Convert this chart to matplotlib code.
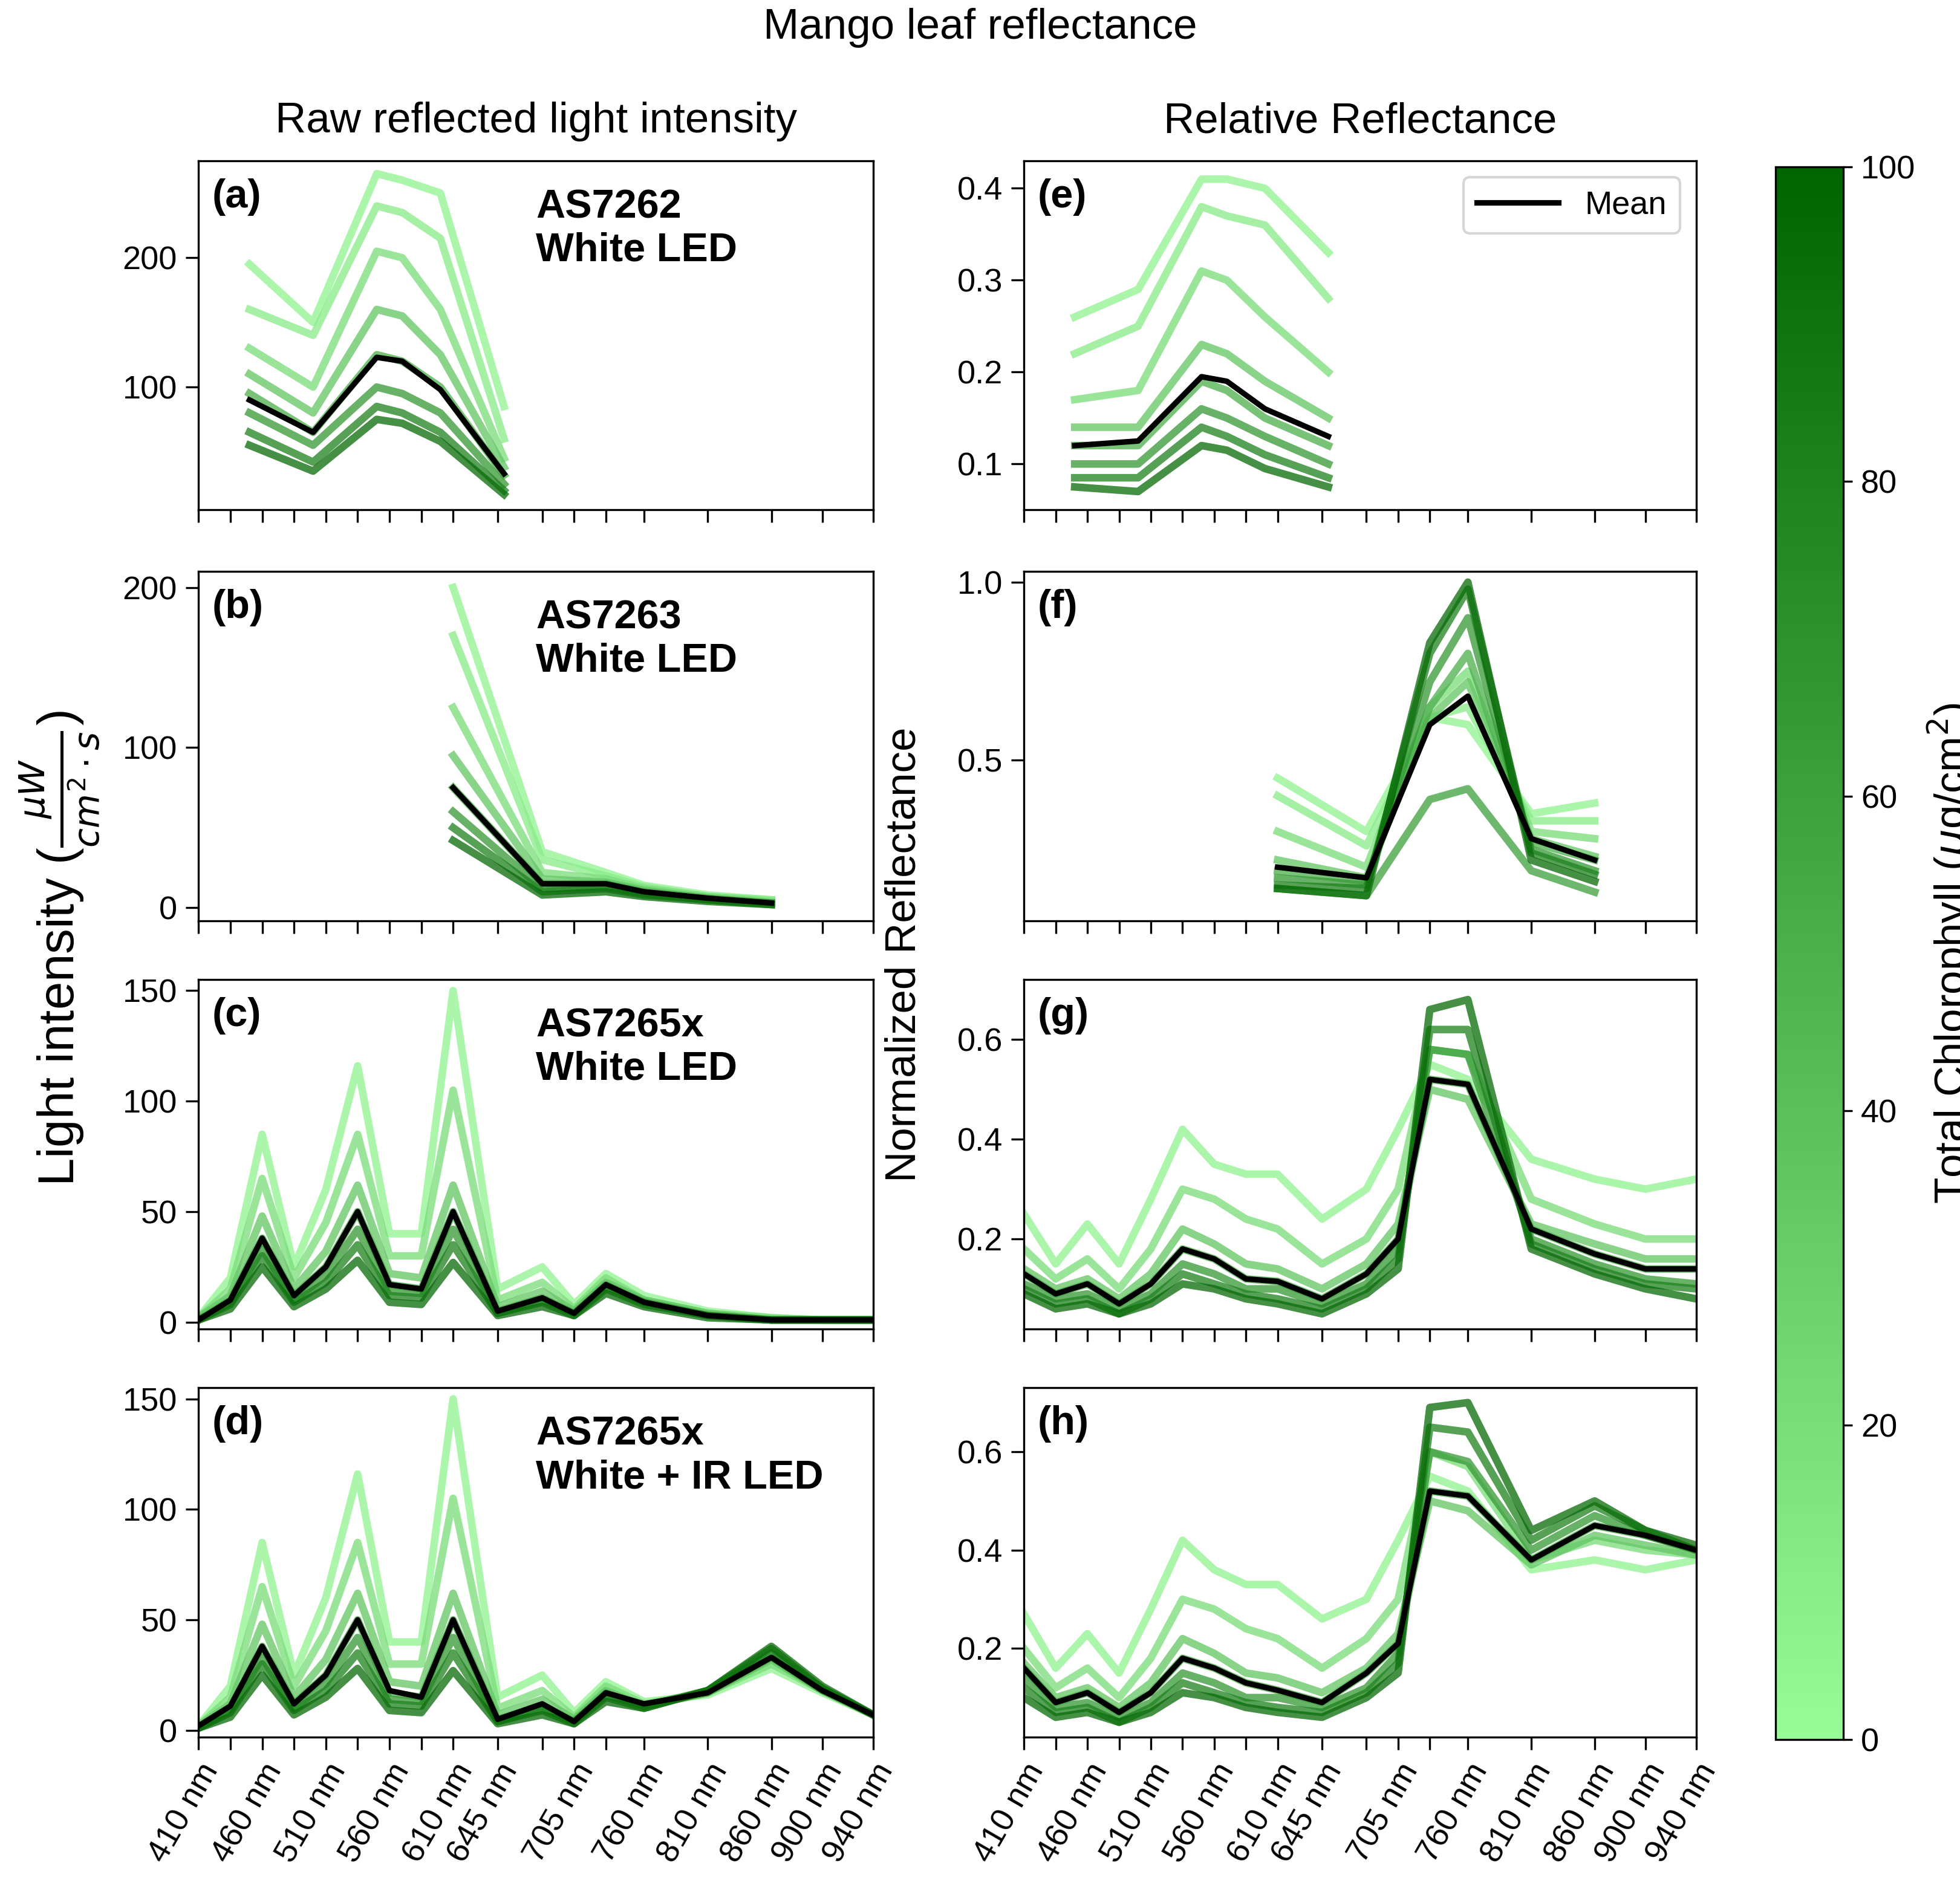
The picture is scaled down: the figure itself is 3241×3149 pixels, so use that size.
import numpy as np
import matplotlib
matplotlib.use("Agg")
import matplotlib.pyplot as plt
from matplotlib.colors import LinearSegmentedColormap, Normalize
from matplotlib.cm import ScalarMappable

plt.rcParams["font.family"] = "Liberation Sans"
plt.rcParams["mathtext.fontset"] = "dejavusans"

wl_62 = [450, 500, 550, 570, 600, 650]
wl_63 = [610, 680, 730, 760, 810, 860]
wl_65 = [410, 435, 460, 485, 510, 535, 560, 585, 610, 645, 680, 705, 730, 760, 810, 860, 900, 940]
tick_labels = {410: "410 nm", 460: "460 nm", 510: "510 nm", 560: "560 nm", 610: "610 nm", 645: "645 nm",
               705: "705 nm", 760: "760 nm", 810: "810 nm", 860: "860 nm", 900: "900 nm", 940: "940 nm"}

chl = [5, 10, 20, 35, 50, 65, 80, 95]

a_curves = [[195,150,265,260,250,85],[160,140,240,235,215,60],[130,100,205,200,160,45],
            [110,80,160,155,125,38],[95,65,125,120,100,32],[80,55,100,95,80,25],
            [65,42,85,80,65,20],[55,35,75,72,58,17]]
a_mean = [90,65,123,120,98,33]

e_curves = [[0.26,0.29,0.41,0.41,0.40,0.33],[0.22,0.25,0.38,0.37,0.36,0.28],[0.17,0.18,0.31,0.30,0.26,0.20],
            [0.14,0.14,0.23,0.22,0.19,0.15],[0.12,0.12,0.19,0.18,0.15,0.12],[0.10,0.10,0.16,0.15,0.13,0.10],
            [0.085,0.085,0.14,0.13,0.11,0.085],[0.075,0.07,0.12,0.115,0.095,0.075]]
e_mean = [0.12,0.125,0.195,0.19,0.16,0.13]

b_curves = [[200,35,22,14,8,5],[170,30,20,13,7,5],[125,22,18,12,7,4],[95,18,16,11,6,3],
            [75,15,15,10,6,3],[60,12,13,9,5,3],[50,10,12,8,5,2],[42,8,10,7,4,2]]
b_mean = [75,15,15,10,6,3]

f_chl = [5, 10, 20, 35, 50, 60, 65, 80, 95]
f_curves = [[0.45,0.30,0.62,0.60,0.35,0.38],[0.40,0.26,0.62,0.65,0.33,0.33],[0.30,0.20,0.65,0.75,0.30,0.28],
            [0.22,0.17,0.62,0.72,0.28,0.23],[0.19,0.16,0.65,0.80,0.27,0.22],[0.14,0.12,0.39,0.42,0.19,0.13],
            [0.17,0.15,0.72,0.90,0.25,0.19],[0.15,0.14,0.80,0.98,0.24,0.18],[0.14,0.12,0.83,1.0,0.22,0.16]]
f_mean = [0.20,0.17,0.60,0.68,0.28,0.22]

c_chl = [5, 20, 35, 50, 65, 80, 95]
c_curves = [[2,20,85,25,60,116,40,40,150,15,25,8,22,12,5,2,1,1],
            [2,15,65,20,45,85,30,30,105,10,18,6,20,10,4,2,1,1],
            [2,12,48,15,32,62,22,20,62,7,14,5,18,10,4,1,1,1],
            [1,10,38,12,25,50,17,15,50,5,11,4,17,9,3,1,1,1],
            [1,9,33,10,21,42,14,13,42,4,10,4,16,9,3,1,1,1],
            [1,8,30,9,18,35,12,11,35,4,9,3,15,8,3,1,1,1],
            [1,6,25,7,15,28,9,8,27,3,7,3,13,7,2,1,1,1]]
c_mean = [1,10,38,12,25,50,17,15,50,5,11,4,17,9,3,1,1,1]

d_curves = [[2,20,85,25,60,116,40,40,150,15,25,8,22,13,16,28,17,7],
            [2,15,65,20,45,85,30,30,105,10,18,6,20,12,17,30,18,7],
            [2,12,48,15,32,62,22,20,62,7,14,5,18,11,17,32,18,7],
            [1,10,38,12,25,50,17,15,50,5,11,4,17,11,17,33,18,7],
            [1,9,33,10,21,42,14,13,42,4,10,4,16,11,18,35,19,7],
            [1,8,30,9,18,35,12,11,35,4,9,3,15,10,18,37,19,7],
            [1,6,25,7,15,28,9,8,27,3,7,3,13,10,18,38,20,7]]
d_mean = [2,11,38,12,25,50,18,15,50,5,12,4,17,12,17,33,18,7]

g_chl = [5, 20, 35, 50, 65, 80, 95]
g_curves = [[0.25,0.15,0.23,0.15,0.28,0.42,0.35,0.33,0.33,0.24,0.30,0.42,0.55,0.52,0.36,0.32,0.30,0.32],
            [0.18,0.12,0.16,0.10,0.18,0.30,0.28,0.24,0.22,0.15,0.20,0.30,0.58,0.57,0.28,0.23,0.20,0.20],
            [0.14,0.10,0.12,0.08,0.13,0.22,0.19,0.15,0.14,0.10,0.15,0.23,0.50,0.48,0.23,0.19,0.16,0.16],
            [0.13,0.09,0.11,0.07,0.11,0.18,0.16,0.12,0.115,0.08,0.13,0.20,0.52,0.51,0.22,0.17,0.14,0.14],
            [0.11,0.08,0.09,0.06,0.09,0.15,0.13,0.10,0.10,0.07,0.11,0.18,0.58,0.57,0.20,0.15,0.12,0.11],
            [0.10,0.07,0.08,0.05,0.08,0.13,0.11,0.09,0.08,0.06,0.10,0.16,0.62,0.62,0.19,0.14,0.11,0.10],
            [0.09,0.06,0.07,0.05,0.07,0.11,0.10,0.08,0.07,0.05,0.09,0.14,0.66,0.68,0.18,0.13,0.10,0.08]]
g_mean = [0.13,0.09,0.11,0.07,0.11,0.18,0.16,0.12,0.115,0.08,0.13,0.20,0.52,0.51,0.22,0.17,0.14,0.14]

h_curves = [[0.27,0.16,0.23,0.15,0.28,0.42,0.36,0.33,0.33,0.26,0.30,0.42,0.55,0.52,0.36,0.38,0.36,0.38],
            [0.20,0.12,0.16,0.10,0.18,0.30,0.28,0.24,0.22,0.16,0.22,0.30,0.60,0.57,0.38,0.42,0.40,0.39],
            [0.17,0.10,0.12,0.08,0.13,0.22,0.19,0.15,0.14,0.11,0.16,0.23,0.50,0.48,0.37,0.43,0.41,0.39],
            [0.16,0.09,0.11,0.07,0.11,0.18,0.16,0.13,0.115,0.09,0.15,0.21,0.52,0.51,0.38,0.45,0.43,0.40],
            [0.14,0.08,0.09,0.06,0.09,0.15,0.13,0.10,0.10,0.08,0.12,0.19,0.60,0.58,0.40,0.47,0.43,0.40],
            [0.12,0.07,0.08,0.05,0.08,0.13,0.11,0.09,0.08,0.07,0.11,0.17,0.65,0.64,0.42,0.49,0.44,0.40],
            [0.10,0.06,0.07,0.05,0.07,0.11,0.10,0.08,0.07,0.06,0.10,0.15,0.69,0.70,0.44,0.50,0.44,0.41]]
h_mean = [0.16,0.09,0.11,0.07,0.11,0.18,0.16,0.13,0.115,0.09,0.15,0.21,0.52,0.51,0.38,0.45,0.43,0.40]

cmap = LinearSegmentedColormap.from_list("gr", ["#98FB98", "#006400"])
norm = Normalize(0, 100)

W, H = 1560.0, 1516.0
fig = plt.figure(figsize=(3241/300, 3149/300), dpi=300)

def box(x0, x1, y0, y1):
    return [x0/W, 1-y1/H, (x1-x0)/W, (y1-y0)/H]

rows = [(128, 406), (455, 733), (780, 1058), (1105, 1383)]
left = (158, 695)
right = (815, 1350)

panels = [
    (left, 0, wl_62, chl, a_curves, a_mean, "(a)", "AS7262\nWhite LED", (5, 275), [100, 200]),
    (left, 1, wl_63, chl, b_curves, b_mean, "(b)", "AS7263\nWhite LED", (-8, 210), [0, 100, 200]),
    (left, 2, wl_65, c_chl, c_curves, c_mean, "(c)", "AS7265x\nWhite LED", (-3, 155), [0, 50, 100, 150]),
    (left, 3, wl_65, c_chl, d_curves, d_mean, "(d)", "AS7265x\nWhite + IR LED", (-3, 155), [0, 50, 100, 150]),
    (right, 0, wl_62, chl, e_curves, e_mean, "(e)", None, (0.05, 0.43), [0.1, 0.2, 0.3, 0.4]),
    (right, 1, wl_63, f_chl, f_curves, f_mean, "(f)", None, (0.05, 1.03), [0.5, 1.0]),
    (right, 2, wl_65, g_chl, g_curves, g_mean, "(g)", None, (0.02, 0.72), [0.2, 0.4, 0.6]),
    (right, 3, wl_65, g_chl, h_curves, h_mean, "(h)", None, (0.02, 0.73), [0.2, 0.4, 0.6]),
]

for col, r, wl, cv, curves, mean, lab, txt, ylim, yt in panels:
    ax = fig.add_axes(box(col[0], col[1], rows[r][0], rows[r][1]))
    for c, y in zip(cv, curves):
        ax.plot(wl, y, color=cmap(norm(c)), lw=3, alpha=0.75)
    ax.plot(wl, mean, color="black", lw=2.2, label="Mean")
    ax.set_xlim(410, 940)
    ax.set_ylim(*ylim)
    ax.set_yticks(yt)
    ax.set_xticks(wl_65)
    if r == 3:
        ax.set_xticklabels([tick_labels.get(w, "") for w in wl_65], rotation=60, ha="right",
                           rotation_mode="anchor", fontsize=13)
    else:
        ax.set_xticklabels([])
    ax.tick_params(labelsize=13, length=5)
    ax.text(0.02, 0.95, lab, transform=ax.transAxes, fontsize=16, fontweight="bold", va="top")
    if txt:
        ax.text(0.5, 0.92, txt, transform=ax.transAxes, fontsize=16, fontweight="bold", va="top")
    if lab == "(e)":
        ax.legend(loc="upper right", fontsize=13, handlelength=2.5)

fig.text(0.5, 1-22/H, "Mango leaf reflectance", ha="center", va="center", fontsize=17)
fig.text((158+695)/2/W, 1-97/H, "Raw reflected light intensity", ha="center", va="center", fontsize=17)
fig.text((815+1350)/2/W, 1-97/H, "Relative Reflectance", ha="center", va="center", fontsize=17)
fig.text(48/W, 1-755/H, r"Light intensity ($\frac{\mu W}{cm^2 \cdot s}$)", rotation=90,
         ha="center", va="center", fontsize=20)
fig.text(720/W, 1-760/H, "Normalized Reflectance", rotation=90, ha="center", va="center", fontsize=17)

cax = fig.add_axes(box(1413, 1467, 133, 1385))
sm = ScalarMappable(norm=norm, cmap=cmap)
cb = fig.colorbar(sm, cax=cax)
cb.set_ticks([0, 20, 40, 60, 80, 100])
cb.ax.tick_params(labelsize=13)
cb.set_label(r"Total Chlorophyll ($\mu$g/cm$^2$)", fontsize=17, labelpad=4)

fig.savefig("out.png", dpi=300)
